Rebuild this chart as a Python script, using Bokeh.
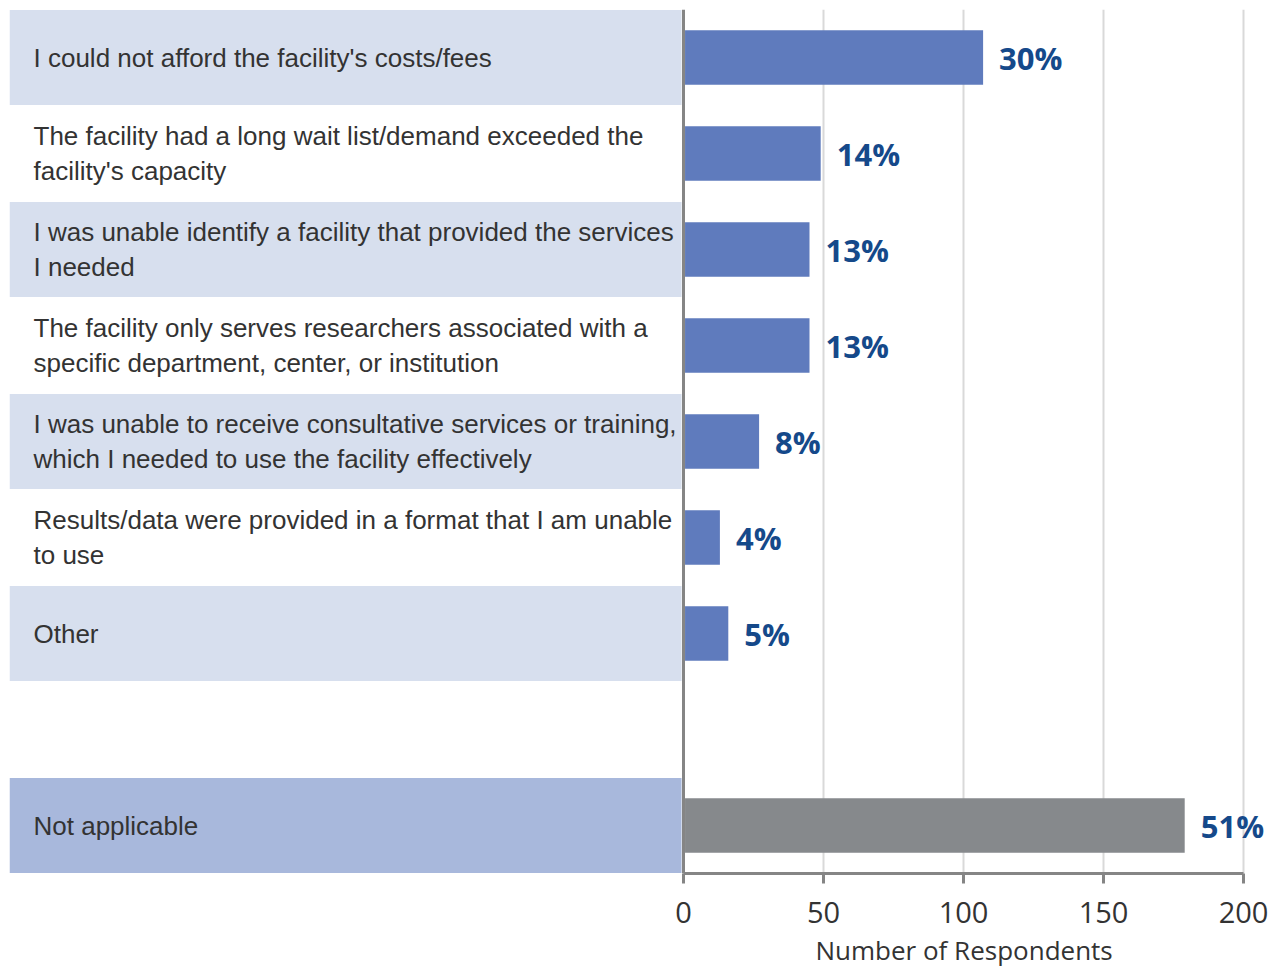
from bokeh.plotting import figure
from bokeh.models import ColumnDataSource, FixedTicker, Span, Title
from bokeh.core.properties import value
from bokeh.embed import file_html
from bokeh.resources import INLINE

categories = [
    "I could not afford the facility's costs/fees",
    "The facility had a long wait list/demand exceeded the\nfacility's capacity",
    "I was unable identify a facility that provided the services\nI needed",
    "The facility only serves researchers associated with a\nspecific department, center, or institution",
    "I was unable to receive consultative services or training,\nwhich I needed to use the facility effectively",
    "Results/data were provided in a format that I am unable\nto use",
    "Other",
    "Not applicable",
]
counts = [107, 49, 45, 45, 27, 13, 16, 179]
pct_labels = ["30%", "14%", "13%", "13%", "8%", "4%", "5%", "51%"]
x_ticks = [0, 50, 100, 150, 200]
x_title = "Number of Respondents"

# layout (pixels -> data)
PX = 2.8            # pixels per respondent
ZERO_PX = 674.0     # distance from frame left edge to x=0
FIG_W = 1280
FIG_H = 975
BORDER_L = 9
BORDER_T = 9
BORDER_B = 102
FRAME_W = FIG_W - BORDER_L
n_slots = 9         # 7 reasons + gap + "Not applicable"

x_start = -ZERO_PX / PX
x_end = (FRAME_W - ZERO_PX) / PX

# row centres (top to bottom), leaving an empty slot before the last one
slot_idx = list(range(7)) + [8]
y_centres = [n_slots - 0.5 - s for s in slot_idx]

bar_colors = ["#5f7bbd"] * 7 + ["#86898c"]
band_colors = ["#d7dfee" if i % 2 == 0 else "#ffffff" for i in range(7)] + ["#a8b8dc"]

p = figure(
    width=FIG_W, height=FIG_H,
    x_range=(x_start, x_end), y_range=(0, n_slots),
    output_backend="svg", toolbar_location=None,
    min_border_left=BORDER_L, min_border_right=0, min_border_top=BORDER_T,
    min_border_bottom=BORDER_B,
    y_axis_location=None,
)
p.outline_line_color = None
p.background_fill_color = "white"
p.ygrid.visible = False

# label bands
band_src = ColumnDataSource(dict(
    left=[x_start] * len(categories),
    right=[-0.7] * len(categories),
    top=[y + 0.495 for y in y_centres],
    bottom=[y - 0.495 for y in y_centres],
    color=band_colors,
))
p.quad(left="left", right="right", top="top", bottom="bottom", source=band_src,
       fill_color="color", line_color=None)

# grid
p.xgrid.ticker = FixedTicker(ticks=[50, 100, 150, 200])
p.xgrid.grid_line_color = "#d9d9d9"
p.xgrid.grid_line_width = 2

# bars
src = ColumnDataSource(dict(
    y=y_centres, count=counts, color=bar_colors, pct=pct_labels,
    cat=categories, lx=[x_start + 24 / PX] * len(categories),
))
p.hbar(y="y", left=0.55, right="count", height=0.57, source=src,
       fill_color="color", line_color=None)

# vertical zero line
p.add_layout(Span(location=0, dimension="height", line_color="#858585", line_width=3))

# percent labels
p.text(x="count", y="y", text="pct", source=src, x_offset=16,
       text_font=value("Open Sans"), text_font_style="bold", text_font_size="31px",
       text_color="#15498a", text_baseline="middle", text_align="left")

# category labels
p.text(x="lx", y="y", text="cat", source=src,
       text_font=value("Liberation Sans"), text_font_size="26px",
       text_color="#333333", text_baseline="middle", text_align="left",
       text_line_height=1.17)

# x axis
ax = p.xaxis[0]
ax.ticker = FixedTicker(ticks=x_ticks)
ax.bounds = (0, 200)
ax.axis_line_color = "#858585"
ax.axis_line_width = 3
ax.major_tick_line_color = "#858585"
ax.major_tick_line_width = 3
ax.major_tick_out = 10
ax.major_tick_in = 0
ax.minor_tick_line_color = None
ax.major_label_text_font = "Open Sans"
ax.major_label_text_font_size = "29px"
ax.major_label_text_color = "#333333"
ax.major_label_standoff = 18

# axis title, placed under the 0-200 axis
p.add_layout(Title(text=x_title, align="left", offset=806, standoff=9,
                   text_font="Open Sans", text_font_style="normal",
                   text_font_size="26px", text_color="#333333"), "below")

open("out.html", "w").write(file_html(p, INLINE))
